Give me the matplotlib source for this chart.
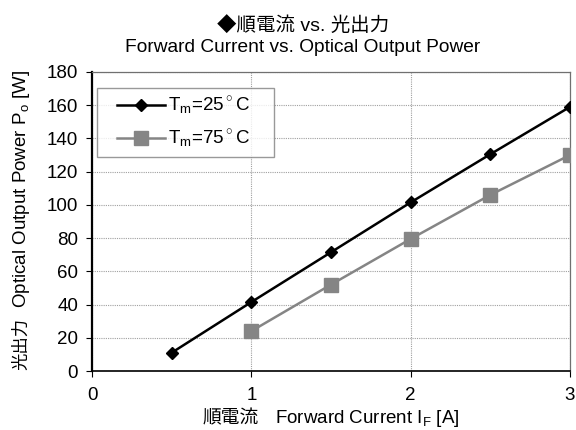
import matplotlib
matplotlib.use("Agg")
import matplotlib.pyplot as plt
from matplotlib.legend_handler import HandlerLine2D

plt.rcParams['font.family'] = ['Liberation Sans', 'Noto Sans CJK JP', 'DejaVu Sans']
plt.rcParams['mathtext.fontset'] = 'custom'
plt.rcParams['mathtext.rm'] = 'Liberation Sans'

# data
current_25 = [0.5, 1.0, 1.5, 2.0, 2.5, 3.0]
power_25 = [11, 41.5, 71.5, 101.5, 130.5, 159]
current_75 = [1.0, 1.5, 2.0, 2.5, 3.0]
power_75 = [24, 52, 79.5, 106, 130]
label_25 = r'T$_\mathregular{m}$=25$^\circ$C    '
label_75 = r'T$_\mathregular{m}$=75$^\circ$C    '
x_ticks = [0, 1, 2, 3]
y_ticks = list(range(0, 181, 20))

W, H = 576, 430
fig = plt.figure(figsize=(W/100, H/100), dpi=100)
ax = fig.add_axes([92/W, 1-371/H, (570-92)/W, (371-72)/H])

ax.plot(current_25, power_25, color='black', lw=1.8, marker='D', ms=6.5,
        label=label_25, zorder=4)
ax.plot(current_75, power_75, color='#858585', lw=1.8, marker='s', ms=9.5,
        label=label_75, zorder=3)

ax.set_xlim(0, 3)
ax.set_ylim(0, 180)
ax.set_xticks(x_ticks)
ax.set_yticks(y_ticks)
ax.tick_params(labelsize=13.5, length=4, pad=6, direction='out', colors='black')
ax.tick_params(axis='x', pad=7.5)
ax.grid(True, color='#a0a0a0', linestyle=(0, (1, 1)), lw=0.8)
ax.set_axisbelow(True)

ax.spines['left'].set_linewidth(1.6)
ax.spines['bottom'].set_linewidth(1.2)
for side in ('top', 'right'):
    ax.spines[side].set_color('#707070')
    ax.spines[side].set_linewidth(0.9)

leg = ax.legend(loc='upper left', fontsize=13.5, handlelength=3.3, frameon=True,
                fancybox=False, edgecolor='#808080', borderpad=0.35,
                labelspacing=0.6, handletextpad=0.16, borderaxespad=0,
                bbox_to_anchor=(0.0105, 0.946),
                handler_map={plt.Line2D: HandlerLine2D(xpad=0.72)})
leg.get_frame().set_linewidth(1.0)

# axis titles: CJK part and Latin part drawn separately (mathtext has no CJK fallback)
fig.text(203/W, 1-423/H, '順電流', fontsize=13.5, ha='left', va='baseline')
fig.text(275/W, 1-423/H, r'Forward Current I$_\mathregular{F}$ [A]', fontsize=13.5,
         ha='left', va='baseline')
fig.text(21/W, 1-370/H, '光出力', fontsize=12.5, rotation=90, ha='center', va='bottom')
fig.text(22/W, 1-70/H, r'Optical Output Power P$_\mathregular{o}$ [W]', fontsize=13.5,
         rotation=90, ha='center', va='top')

fig.text(303/W, 1-25/H, '◆順電流 vs. 光出力', fontsize=14, ha='center', va='center')
fig.text(303/W, 1-48/H, 'Forward Current vs. Optical Output Power', fontsize=13.8,
         ha='center', va='center')

fig.savefig('out.png', dpi=100)
